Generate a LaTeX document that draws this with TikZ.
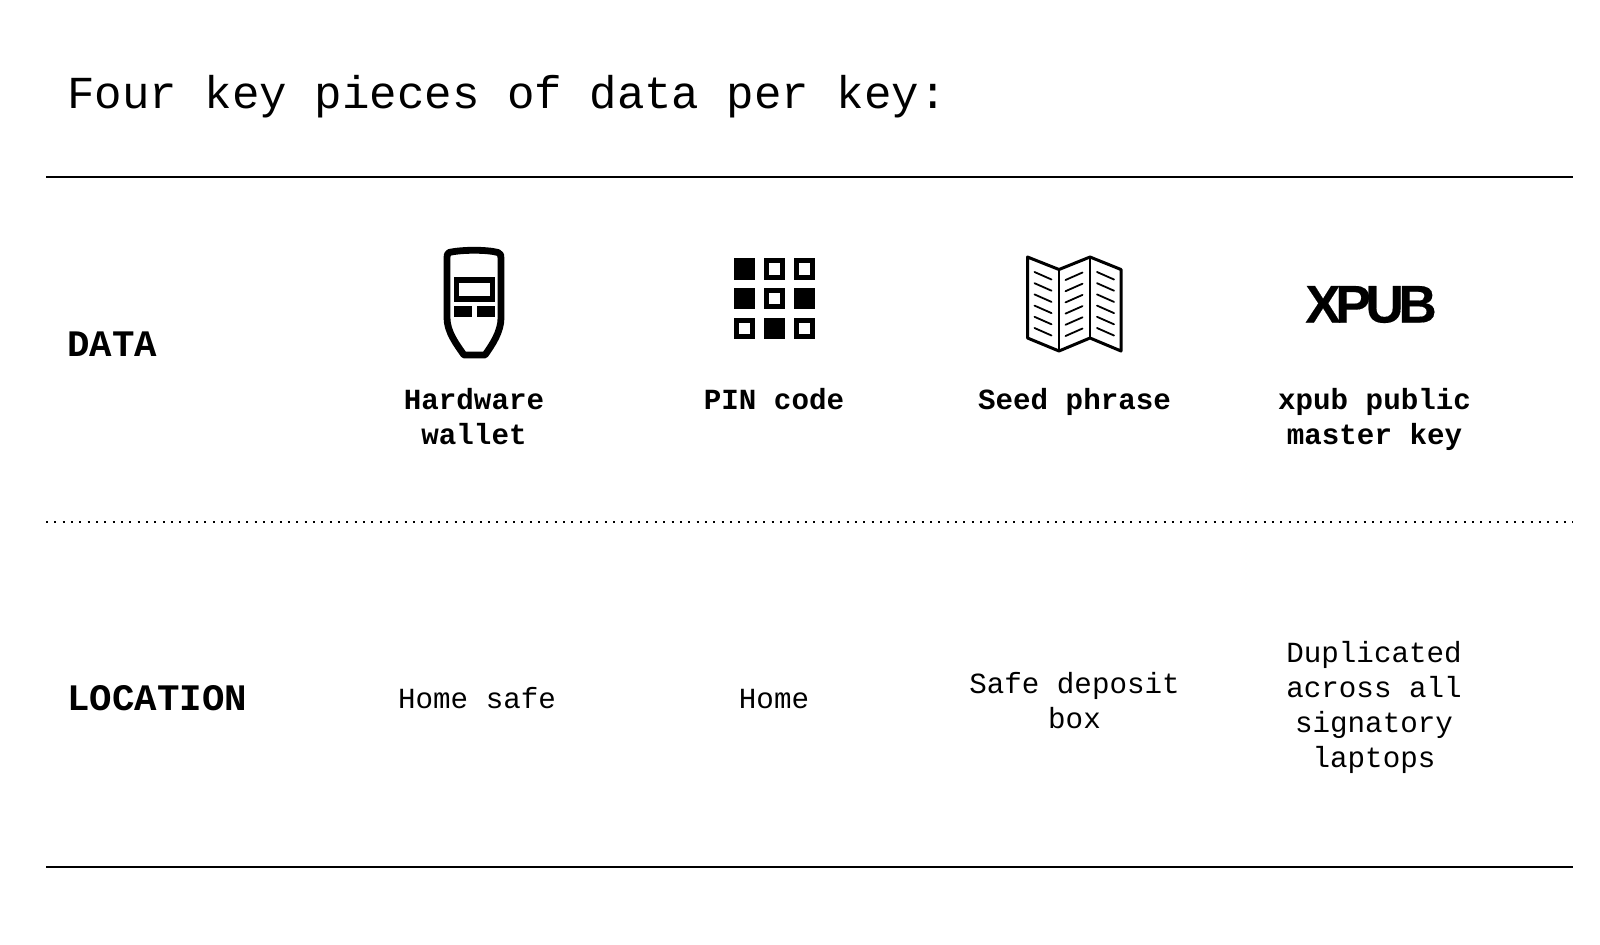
\documentclass[tikz,border=0pt]{standalone}
\usepackage{fontspec}
\setmainfont{Liberation Mono}
\newfontfamily\logofont[LetterSpace=-10,FakeBold=0.3]{Liberation Sans Bold}
\tikzset{
  rowhead/.style={inner sep=0pt,font=\fontsize{18.7pt}{22pt}\selectfont\bfseries},
  itemhead/.style={inner sep=0pt,anchor=north,align=center,font=\fontsize{14.6pt}{17.5pt}\selectfont\bfseries},
  itemplace/.style={inner sep=0pt,align=center,font=\fontsize{14.6pt}{17.5pt}\selectfont},
  rule/.style={line width=1.2pt},
  padkey/.style={fill=black,draw=black,line width=2.5pt},
  padhole/.style={draw=black,line width=2.5pt},
  foldline/.style={line width=.9pt,line cap=round},
}
\begin{document}
\begin{tikzpicture}[x=.5pt,y=-.5pt]
  \useasboundingbox (0,0) rectangle (1600,944);

  \node[inner sep=0pt,anchor=base west,font=\fontsize{22.9pt}{26pt}\selectfont] (title) at (67,108.5) {Four key pieces of data per key:};

  \coordinate (topl) at (46,177);
  \coordinate (topr) at (1573,177);
  \coordinate (midl) at (46,521.7);
  \coordinate (midr) at (1573,521.7);
  \coordinate (botl) at (46,867);
  \coordinate (botr) at (1573,867);
  \draw[rule] (topl) -- (topr);
  \draw[line width=1pt,dash pattern=on 1pt off 3.17pt] (midl) -- (midr);
  \draw[rule] (botl) -- (botr);

  % row labels
  \node[rowhead,anchor=base west] (data) at (67,356) {DATA};
  \node[rowhead,anchor=base west] (location) at (67,710) {LOCATION};

  % wallet
  \draw[line width=3.4pt,line join=round] (449,252.5) .. controls (462,249.5) and (487,249.5) .. (498,252.5)
    .. controls (501,253.5) and (501,255.5) .. (501,258.5) -- (501,318)
    .. controls (501,332) and (492,345) .. (485,355) -- (464,355)
    .. controls (457,345) and (447,332) .. (447,318) -- (447,258.5)
    .. controls (447,255.5) and (447,253.5) .. (449,252.5) -- cycle;
  \draw[line width=2.6pt] (456.5,280) rectangle (492.5,299);
  \fill (454,305.5) rectangle (472,316.5);
  \fill (477,305.5) rectangle (495,316.5);

  % keypad
  \foreach \col/\row/\kind in {0/0/padkey,1/0/padhole,2/0/padhole,
                               0/1/padkey,1/1/padhole,2/1/padkey,
                               0/2/padhole,1/2/padkey,2/2/padhole}
    \draw[\kind] ({736+\col*30},{260.5+\row*29.8}) rectangle ++(16.5,16.5);

  % map
  \draw[line width=1.5pt,line join=round] (1027.5,257) -- (1059,269.5) -- (1090,257) -- (1121,269.5)
    -- (1121,351) -- (1090,338) -- (1059,351) -- (1027.5,338) -- cycle;
  \draw[line width=1.2pt] (1059,269.5) -- (1059,351);
  \draw[line width=1.2pt] (1090,257) -- (1090,338);
  \foreach \i in {0,...,5} {
    \draw[foldline] (1034.5,{272+\i*11.2}) -- ++(17,7.5);
    \draw[foldline] (1065.5,{280+\i*11.2}) -- ++(17,-7.5);
    \draw[foldline] (1097,{272+\i*11.2}) -- ++(17,7.5);
  }

  % xpub logo
  \node[inner sep=0pt,anchor=base,font=\fontsize{26.5pt}{26pt}\logofont] (xpub) at (1371,322.5) {XPUB};

  % data row
  \node[itemhead] (wallet) at (474,388) {Hardware\\wallet};
  \node[itemhead] (pin) at (774,388) {PIN code};
  \node[itemhead] (seed) at (1074.5,388) {Seed phrase};
  \node[itemhead] (pub) at (1374.5,388) {xpub public\\master key};

  % location row
  \node[itemplace] (safe) at (477,698) {Home safe};
  \node[itemplace] (home) at (774,699) {Home};
  \node[itemplace] (box) at (1074.5,701) {Safe deposit\\box};
  \node[itemplace] (laptops) at (1374,707.5) {Duplicated\\across all\\signatory\\laptops};
\end{tikzpicture}
\end{document}
